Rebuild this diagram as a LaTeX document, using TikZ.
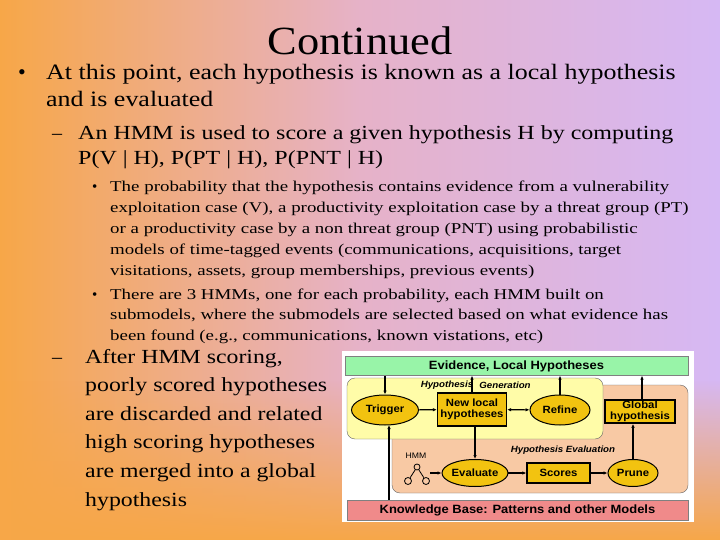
\documentclass[tikz,border=0pt]{standalone}
\usepackage{fontspec}
\setmainfont{Liberation Serif}
\newfontfamily\dsans{Liberation Sans}[FakeStretch=1.08]
\newfontfamily\sA{Liberation Serif}[FakeStretch=1.11]
\newfontfamily\sB{Liberation Serif}[FakeStretch=1.18]
\newfontfamily\sC{Liberation Serif}[FakeStretch=1.2]
\newfontfamily\sD{Liberation Serif}[FakeStretch=1.26]
\newfontfamily\sE{Liberation Serif}[FakeStretch=1.19]
\usetikzlibrary{fadings,arrows.meta,shapes.geometric}
\definecolor{bgor}{HTML}{F7A748}
\definecolor{bgpk}{HTML}{E6B2C8}
\definecolor{bglv}{HTML}{D6B8F4}
\definecolor{gold}{HTML}{F2C310}
\definecolor{ylw}{HTML}{FFFCA8}
\definecolor{slm}{HTML}{F8C9A4}
\definecolor{grn}{HTML}{98F4A8}
\definecolor{pnk}{HTML}{F08A8A}
\newcommand{\toplines}[1]{\begin{tabular}[t]{@{}l@{}}#1\end{tabular}}
\tikzset{
 elln/.style={ellipse,draw,line width=1pt,fill=gold,inner sep=0pt,font=\dsans\bfseries\fontsize{10.5}{11}\selectfont},
 boxn/.style={rectangle,draw,line width=1.3pt,fill=gold,inner sep=1pt,align=center,font=\dsans\bfseries\fontsize{10.5}{11.5}\selectfont},
 arr/.style={-{Latex[length=4pt,width=3.5pt]},line width=1.1pt},
 txt/.style={anchor=base west,inner sep=0pt},
}
\begin{document}
\begin{tikzpicture}[x=1pt,y=-1pt]
\useasboundingbox (0,0) rectangle (720,540);
\shade[left color=bgor,right color=bglv,middle color=bgpk] (0,0) rectangle (720,540);
\fill[bgor,path fading=north] (0,380) rectangle (720,540);
% title
\node[anchor=base,font=\sA\fontsize{40}{40}\selectfont] (title) at (360,55) {Continued};
\node[txt,font=\fontsize{22}{22}\selectfont] (b1) at (18,80) {•};
\node[txt,font=\sB\fontsize{22}{27}\selectfont] (t1) at (46,80) {\toplines{At this point, each hypothesis is known as a local hypothesis\\and is evaluated}};
\node[txt,font=\fontsize{20}{20}\selectfont] (d1) at (52,140) {–};
\node[txt,font=\sC\fontsize{20}{25}\selectfont] (t2) at (78,140) {\toplines{An HMM is used to score a given hypothesis H by computing\\P(V | H), P(PT | H), P(PNT | H)}};
\node[txt,font=\fontsize{15}{15}\selectfont] (b3) at (92,192) {•};
\node[txt,font=\sD\fontsize{15}{20.8}\selectfont] (t3) at (110,192) {\toplines{The probability that the hypothesis contains evidence from a vulnerability\\exploitation case (V), a productivity exploitation case by a threat group (PT)\\or a productivity case by a non threat group (PNT) using probabilistic\\models of time-tagged events (communications, acquisitions, target\\visitations, assets, group memberships, previous events)}};
\node[txt,font=\fontsize{15}{15}\selectfont] (b4) at (92,299) {•};
\node[txt,font=\sD\fontsize{15}{20.8}\selectfont] (t4) at (110,299) {\toplines{There are 3 HMMs, one for each probability, each HMM built on\\submodels, where the submodels are selected based on what evidence has\\been found (e.g., communications, known vistations, etc)}};
\node[txt,font=\fontsize{20}{20}\selectfont] (d2) at (52,363) {–};
\node[txt,font=\sE\fontsize{20}{28.6}\selectfont] (t5) at (85,363) {\toplines{After HMM scoring,\\poorly scored hypotheses\\are discarded and related\\high scoring hypotheses\\are merged into a global\\hypothesis}};
% diagram
\fill[white] (342,351) rectangle (694,522);
\fill[slm,draw=black!60,rounded corners=8pt] (392,385) rectangle (688,493);
\fill[ylw,draw=black!60,rounded corners=8pt] (347,378) rectangle (603,439);
\node[draw=black!50,fill=grn,minimum width=343pt,minimum height=19pt,inner sep=0pt,font=\dsans\bfseries\fontsize{12}{12}\selectfont] (ev) at (516.5,366) {Evidence, Local Hypotheses};
\node[draw=black!50,fill=pnk,minimum width=341pt,minimum height=20pt,inner sep=0pt,font=\dsans\bfseries\fontsize{12}{12}\selectfont] (kb) at (517.5,510) {Knowledge Base: Patterns and other Models};
\node[elln,minimum width=67pt,minimum height=30pt] (trig) at (385,410) {Trigger};
\node[boxn,minimum width=69pt,minimum height=33pt] (nlh) at (472,409.5) {New local\\hypotheses};
\node[elln,minimum width=60pt,minimum height=30pt] (ref) at (560,410) {Refine};
\node[boxn,minimum width=70pt,minimum height=23pt] (glob) at (640,411.5) {Global\\hypothesis};
\node[elln,minimum width=60pt,minimum height=27pt] (eval) at (475,473) {Evaluate};
\node[boxn,minimum width=63pt,minimum height=20pt] (sc) at (558.5,473) {Scores};
\node[elln,minimum width=50pt,minimum height=27pt] (pr) at (633,473) {Prune};
\node[font=\dsans\bfseries\itshape\fontsize{9}{9}\selectfont,fill=ylw,inner sep=1pt] (hg1) at (447,385) {Hypothesis};
\node[font=\dsans\bfseries\itshape\fontsize{9}{9}\selectfont,fill=ylw,inner sep=1pt] (hg2) at (505,385) {Generation};
\node[font=\dsans\bfseries\itshape\fontsize{9}{9}\selectfont,inner sep=0pt] (he) at (563,450) {Hypothesis Evaluation};
\node[font=\dsans\fontsize{8}{8}\selectfont,inner sep=0pt] (hmm) at (416,456) {HMM};
% HMM icon
\node[circle,draw,line width=0.8pt,minimum size=6pt,inner sep=0pt] (hc1) at (417,467) {};
\node[circle,draw,line width=0.8pt,minimum size=7pt,inner sep=0pt] (hc2) at (408,481) {};
\node[circle,draw,line width=0.8pt,minimum size=7pt,inner sep=0pt] (hc3) at (426,481) {};
\draw[line width=0.8pt] (hc1) -- (hc2); \draw[line width=0.8pt] (hc1) -- (hc3);
\coordinate (hico) at (430,473);
% arrows
\draw[arr] (ev.south -| trig.north) -- (trig.north);
\draw[arr] (kb.north -| 389,0) -- (389,425);
\draw[arr] (trig) -- (nlh);
\draw[arr,{Latex[length=4pt,width=3.5pt]}-{Latex[length=4pt,width=3.5pt]}] (nlh) -- (ref);
\draw[arr] (ref.north) -- (ev.south -| ref.north);
\draw[arr] (nlh.north) -- (ev.south -| nlh.north);
\draw[arr] (nlh.south -| 475,0) -- (eval.north);
\draw[arr] (hico) -- (eval);
\draw[arr] (eval) -- (sc);
\draw[arr] (sc) -- (pr);
\draw[arr] (pr.north) -- (pr.north |- glob.south);
\draw[arr,line width=2pt] (glob.north -| 642,0) -- (ev.south -| 642,0);
\end{tikzpicture}
\end{document}
